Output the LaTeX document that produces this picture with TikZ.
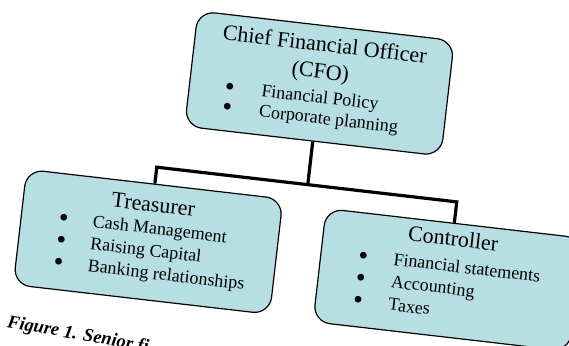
\documentclass[tikz,border=0pt]{standalone}
\usepackage{fontspec}
\setmainfont{Liberation Serif}
\definecolor{boxblue}{RGB}{183,222,227}
\newcommand{\dotmark}{\raisebox{2pt}{$\bullet$}}

\begin{document}
\begin{tikzpicture}[x=1pt,y=1pt,
  orgbox/.style={draw, line width=1.2pt, rounded corners=17pt, fill=boxblue, minimum width=258pt, minimum height=116pt, inner sep=0pt},
  head/.style={anchor=base, inner sep=0pt, font=\fontsize{22}{26}\selectfont},
  items/.style={anchor=base west, inner sep=0pt, font=\fontsize{18}{22.3}\selectfont},
  link/.style={line width=3.2pt}]
\useasboundingbox (0,0) rectangle (569,-345);
\clip (0,0) rectangle (569,-345);
\begin{scope}[rotate around={-6.6:(284.5,-172.5)}, transform shape]
\node (cfo) [orgbox] at (309,-80) {};
\node (treasurer) [orgbox] at (157,-257) {};
\node (controller) [orgbox, minimum height=114pt] at (459,-260.5) {};

\draw[link] (treasurer.north) -- ++(0,16.5) coordinate (bar) -| (controller.north);
\draw[link] (cfo.south) -- (cfo.south |- bar);

\node (cfotitle) [head] at (310,-48) {Chief Financial Officer};
\node (cfoshort) [head] at (308.5,-75) {(CFO)};
\node (cfoitems) [items, font=\fontsize{18}{20.5}\selectfont] at (215.8,-99.5) {\begin{tabular}[t]{@{}l@{\hspace{27.8pt}}l@{}}
  \dotmark & Financial Policy\\
  \dotmark & Corporate planning
\end{tabular}};

\node (treasurertitle) [head] at (158,-226.5) {Treasurer};
\node (treasureritems) [items] at (66,-249) {\begin{tabular}[t]{@{}l@{\hspace{25.2pt}}l@{}}
  \dotmark & Cash Management\\
  \dotmark & Raising Capital\\
  \dotmark & Banking relationships
\end{tabular}};

\node (controllertitle) [head] at (459.8,-226) {Controller};
\node (controlleritems) [items, font=\fontsize{18}{22.6}\selectfont] at (367.9,-252) {\begin{tabular}[t]{@{}l@{\hspace{26.3pt}}l@{}}
  \dotmark & Financial statements\\
  \dotmark & Accounting\\
  \dotmark & Taxes
\end{tabular}};

\node (caption) [anchor=base west, inner sep=0pt, rotate=-3.5, font=\fontsize{18.5}{22}\selectfont\bfseries\itshape] at (26,-358) {Figure 1. Senior fi};
\end{scope}
\end{tikzpicture}
\end{document}
